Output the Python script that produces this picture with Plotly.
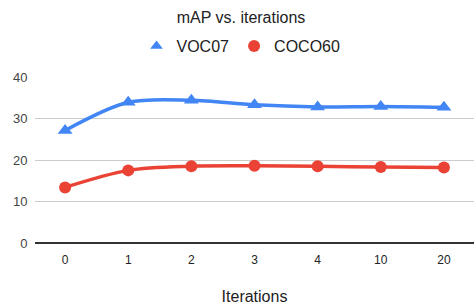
import plotly.graph_objects as go

iterations = ["0", "1", "2", "3", "4", "10", "20"]
voc07 = [27.1, 33.9, 34.4, 33.3, 32.8, 32.9, 32.7]
coco60 = [13.4, 17.5, 18.5, 18.6, 18.5, 18.3, 18.2]
y_ticks = [0, 10, 20, 30, 40]

BLUE, RED = "#4285F4", "#EA4335"

fig = go.Figure()
fig.add_trace(go.Scatter(
    x=iterations, y=voc07, name="VOC07", mode="lines+markers", showlegend=False,
    line=dict(color=BLUE, width=3.5, shape="spline", smoothing=0.9),
    marker=dict(symbol="triangle-up", size=13, color=BLUE),
))
fig.add_trace(go.Scatter(
    x=iterations, y=coco60, name="COCO60", mode="lines+markers", showlegend=False,
    line=dict(color=RED, width=3.5, shape="spline", smoothing=0.9),
    marker=dict(symbol="circle", size=12, color=RED),
))
# legend entries (markers only, like the reference)
fig.add_trace(go.Scatter(x=[None], y=[None], name="VOC07", mode="markers",
                         marker=dict(symbol="triangle-up", size=11, color=BLUE)))
fig.add_trace(go.Scatter(x=[None], y=[None], name="COCO60", mode="markers",
                         marker=dict(symbol="circle", size=12, color=RED)))

L, R, T, B = 35, 0, 77, 64
W, H = 474, 307
pw = W - L - R
fig.update_layout(
    width=W, height=H,
    margin=dict(l=L, r=R, t=T, b=B, autoexpand=False),
    paper_bgcolor="white", plot_bgcolor="white",
    font=dict(family="Liberation Sans, Arial, sans-serif", color="#444", size=12),
    title=dict(text="mAP vs. iterations", x=(241 - L) / pw, xref="paper", xanchor="center",
               y=1 - 17 / H, yref="container", yanchor="middle",
               font=dict(size=16, color="#222")),
    legend=dict(orientation="h", x=(241 - L) / pw, xanchor="center",
                y=1 - 46 / H, yref="container", yanchor="middle",
                font=dict(size=16, color="#222"), traceorder="normal", itemwidth=30),
    xaxis=dict(type="category", showgrid=False, ticks="outside", ticklen=6,
               tickcolor="rgba(0,0,0,0)", tickfont=dict(size=12, color="#222"),
               title=dict(text="Iterations", font=dict(size=16, color="#222"), standoff=24),
               showline=False, zeroline=False),
    yaxis=dict(range=[0, 40], tickvals=y_ticks, showgrid=True, gridcolor="#cccccc",
               gridwidth=1, zeroline=True, zerolinecolor="#333333", zerolinewidth=1.5,
               tickfont=dict(size=13, color="#444"), ticks="outside", ticklen=4,
               tickcolor="rgba(0,0,0,0)", fixedrange=True),
)

fig.write_html("out.html", config={"displayModeBar": False},
               post_script="document.body.style.margin='0';")
